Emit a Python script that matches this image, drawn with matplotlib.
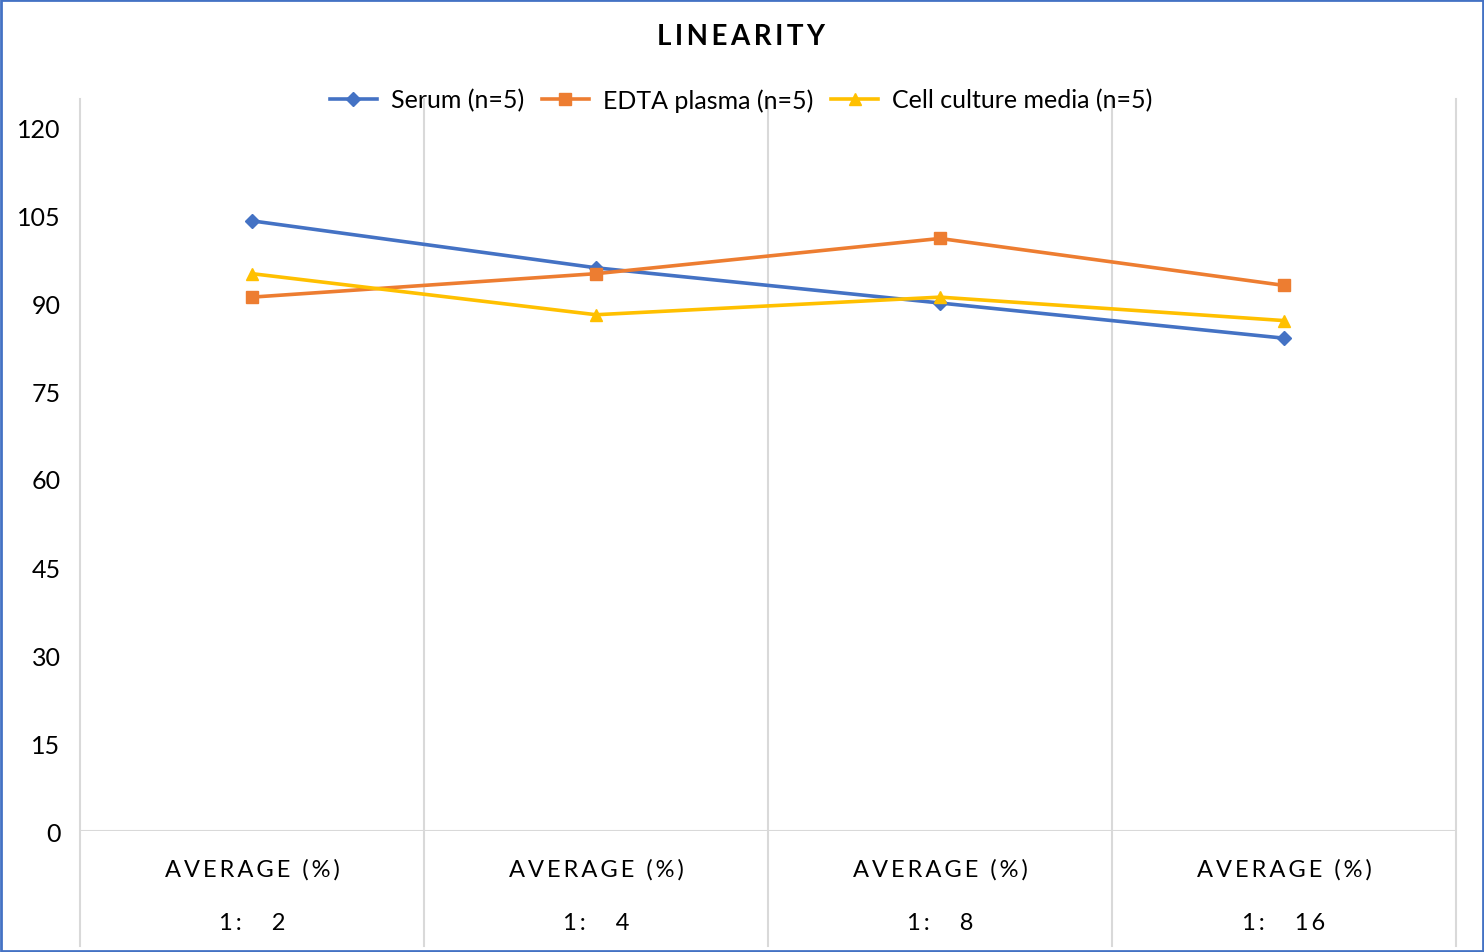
import matplotlib
matplotlib.use("Agg")
import matplotlib.pyplot as plt
from matplotlib.patches import Rectangle

# chart data
categories = ["1: 2", "1: 4", "1: 8", "1: 16"]
group_label = "AVERAGE (%)"
serum = [104, 96, 90, 84]
edta_plasma = [91, 95, 101, 93]
cell_culture = [95, 88, 91, 87]
y_ticks = [0, 15, 30, 45, 60, 75, 90, 105, 120]

plt.rcParams['font.family'] = ['Lato', 'DejaVu Sans']

W, H = 1484, 953
fig = plt.figure(figsize=(W / 100, H / 100), dpi=100)
# axes in pixel coords: left 80, right 1456, bottom(y=0) 832, top(y=120) 128
ax = fig.add_axes([80 / W, 1 - 832 / H, (1456 - 80) / W, (832 - 128) / H])

x = [i + 0.5 for i in range(len(categories))]
ax.plot(x, serum, color="#4472C4", lw=2.6, marker="D", ms=7, label="Serum (n=5)")
ax.plot(x, edta_plasma, color="#ED7D31", lw=2.6, marker="s", ms=9, label="EDTA plasma (n=5)")
ax.plot(x, cell_culture, color="#FFC000", lw=2.6, marker="^", ms=9, label="Cell culture media (n=5)")

ax.set_xlim(0, len(categories))
ax.set_ylim(0, 120)
ax.set_yticks(y_ticks)
ax.set_yticklabels([str(v) for v in y_ticks], fontsize=18)
ax.tick_params(axis="y", length=0, pad=14)
ax.set_xticks([])
for s in ax.spines.values():
    s.set_visible(False)

# category separators extending into label area
px = 120 / (832 - 128)
for i in range(len(categories) + 1):
    ax.plot([i, i], [-(947 - 832) * px, (832 - 100) * px], color="#D9D9D9",
            lw=1.5, clip_on=False, zorder=0)
ax.plot([0, len(categories)], [0, 0], color="#D9D9D9", lw=1.5, zorder=0)

spaced = "\u2009".join(group_label)
for xi, lab in zip(x, categories):
    ax.text(xi, -(870 - 832) * px, spaced, ha="center", va="center", fontsize=17)
    ax.text(xi, -(924 - 832) * px, "\u2009".join(lab.replace(": ", ":   ")),
            ha="center", va="center", fontsize=17)

fig.text(741 / W, 1 - 37 / H, "\u2009".join("LINEARITY"), ha="center", va="center",
         fontsize=20, fontweight="bold")

ax.legend(loc="center", bbox_to_anchor=(741 / W, 1 - 101 / H),
          bbox_transform=fig.transFigure, ncol=3, frameon=False, fontsize=18,
          handlelength=1.9, handletextpad=0.55, columnspacing=0.7)

fig.patches.append(Rectangle((1 / W, 1 / H), 1 - 2 / W, 1 - 2 / H, transform=fig.transFigure,
                             fill=False, edgecolor="#4472C4", lw=2))

fig.savefig("out.png", dpi=100)
